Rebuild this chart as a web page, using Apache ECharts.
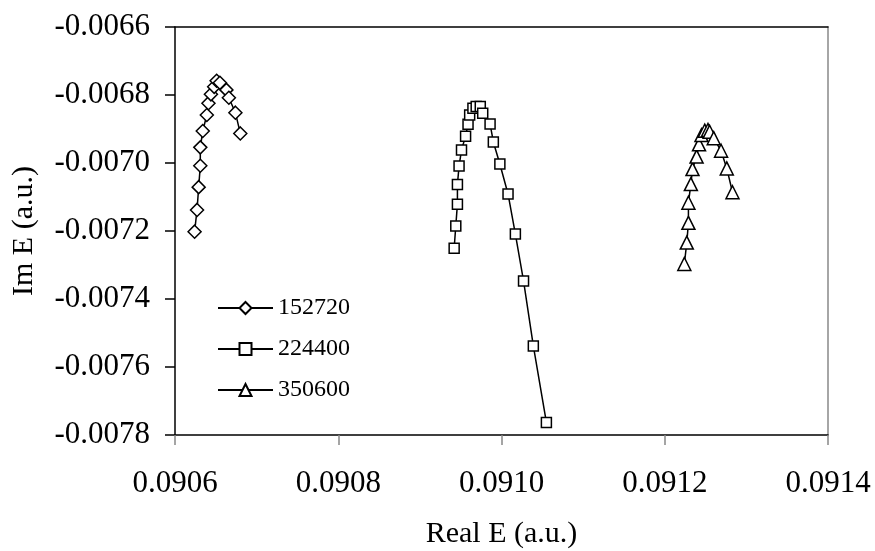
<!DOCTYPE html>
<html>
<head>
<meta charset="utf-8">
<script src="https://cdn.jsdelivr.net/npm/echarts@6/dist/echarts.min.js"></script>
<style>
  html, body { margin: 0; padding: 0; background: #fff; }
  #chart { width: 875px; height: 551px; }
</style>
</head>
<body>
<div id="chart"></div>
<script>
// 数据：实部 / 虚部
const seriesNames = ['152720', '224400', '350600'];

const re152720 = [0.090624, 0.090627, 0.090629, 0.090631, 0.090631, 0.090634, 0.090639, 0.090641,
  0.090644, 0.090648, 0.090651, 0.090655, 0.090663, 0.090666, 0.090674, 0.090680];
const im152720 = [-0.007202, -0.007138, -0.007071, -0.007008, -0.006954, -0.006906, -0.006859, -0.006824,
  -0.006798, -0.006776, -0.006758, -0.006764, -0.006785, -0.006808, -0.006852, -0.006913];

const re224400 = [0.090942, 0.090944, 0.090946, 0.090946, 0.090948, 0.090951, 0.090956, 0.090959,
  0.090961, 0.090965, 0.090969, 0.090974, 0.090977, 0.090986, 0.090990, 0.090998, 0.091008,
  0.091017, 0.091027, 0.091039, 0.091055];
const im224400 = [-0.007251, -0.007185, -0.007121, -0.007063, -0.007009, -0.006962, -0.006921, -0.006886,
  -0.006859, -0.006839, -0.006834, -0.006834, -0.006854, -0.006885, -0.006938, -0.007003, -0.007091,
  -0.007209, -0.007347, -0.007538, -0.007763];

const re350600 = [0.091224, 0.091227, 0.091229, 0.091229, 0.091232, 0.091234, 0.091239, 0.091242,
  0.091245, 0.091249, 0.091253, 0.091255, 0.091260, 0.091269, 0.091276, 0.091283];
const im350600 = [-0.007297, -0.007234, -0.007176, -0.007117, -0.007062, -0.007018, -0.006981, -0.006945,
  -0.006918, -0.006905, -0.006903, -0.006908, -0.006927, -0.006964, -0.007016, -0.007086];

const FONT = '"Liberation Serif", "Times New Roman", serif';

function pairs(xs, ys) {
  return xs.map((x, i) => [x, ys[i]]);
}

function lineSeries(name, data, symbol, size) {
  return {
    name: name,
    type: 'line',
    data: data,
    symbol: symbol,
    symbolSize: size,
    showAllSymbol: true,
    lineStyle: { color: '#000', width: 1.5 },
    itemStyle: { color: '#fff', borderColor: '#000', borderWidth: 1.5 },
    xAxisIndex: 0,
    yAxisIndex: 0
  };
}

const chart = echarts.init(document.getElementById('chart'));

const option = {
  animation: false,
  backgroundColor: '#fff',
  grid: { left: 175, right: 47, top: 27, bottom: 116, containLabel: false, outerBoundsMode: 'none' },
  legend: {
    orient: 'vertical',
    left: 212,
    top: 291,
    itemWidth: 55,
    itemHeight: 15,
    itemGap: 17,
    textStyle: { fontFamily: FONT, fontSize: 24, color: '#000' },
    data: seriesNames
  },
  xAxis: [
    {
      type: 'value',
      min: 0.0906,
      max: 0.0914,
      interval: 0.0002,
      name: 'Real E (a.u.)',
      nameLocation: 'middle',
      nameGap: 84,
      nameTextStyle: { fontFamily: FONT, fontSize: 30, color: '#000' },
      axisLine: { onZero: false, lineStyle: { color: '#000', width: 1.5 } },
      axisTick: { inside: false, length: 10, lineStyle: { color: '#888', width: 1.5 } },
      axisLabel: {
        margin: 33,
        fontFamily: FONT, fontSize: 31, color: '#000',
        formatter: v => v.toFixed(4)
      },
      splitLine: { show: false }
    },
    {
      type: 'value',
      position: 'top',
      min: 0.0906,
      max: 0.0914,
      axisLine: { show: true, onZero: false, lineStyle: { color: '#000', width: 1.5 } },
      axisTick: { show: false },
      axisLabel: { show: false },
      splitLine: { show: false }
    }
  ],
  yAxis: [
    {
      type: 'value',
      min: -0.0078,
      max: -0.0066,
      interval: 0.0002,
      name: 'Im E (a.u.)',
      nameLocation: 'middle',
      nameRotate: 90,
      nameGap: 136,
      nameTextStyle: { fontFamily: FONT, fontSize: 30, color: '#000' },
      axisLine: { show: true, onZero: false, lineStyle: { color: '#000', width: 1.5 } },
      axisTick: { show: true, inside: false, length: 10, lineStyle: { color: '#000', width: 1.5 } },
      axisLabel: {
        margin: 25,
        fontFamily: FONT, fontSize: 31, color: '#000',
        formatter: v => v.toFixed(4)
      },
      splitLine: { show: false }
    },
    {
      type: 'value',
      position: 'right',
      min: -0.0078,
      max: -0.0066,
      axisLine: { show: true, onZero: false, lineStyle: { color: '#888', width: 1.5 } },
      axisTick: { show: false },
      axisLabel: { show: false },
      splitLine: { show: false }
    }
  ],
  series: [
    lineSeries(seriesNames[0], pairs(re152720, im152720), 'diamond', 13),
    lineSeries(seriesNames[1], pairs(re224400, im224400), 'rect', 10),
    lineSeries(seriesNames[2], pairs(re350600, im350600), 'triangle', 13)
  ]
};

chart.setOption(option);
</script>
</body>
</html>
